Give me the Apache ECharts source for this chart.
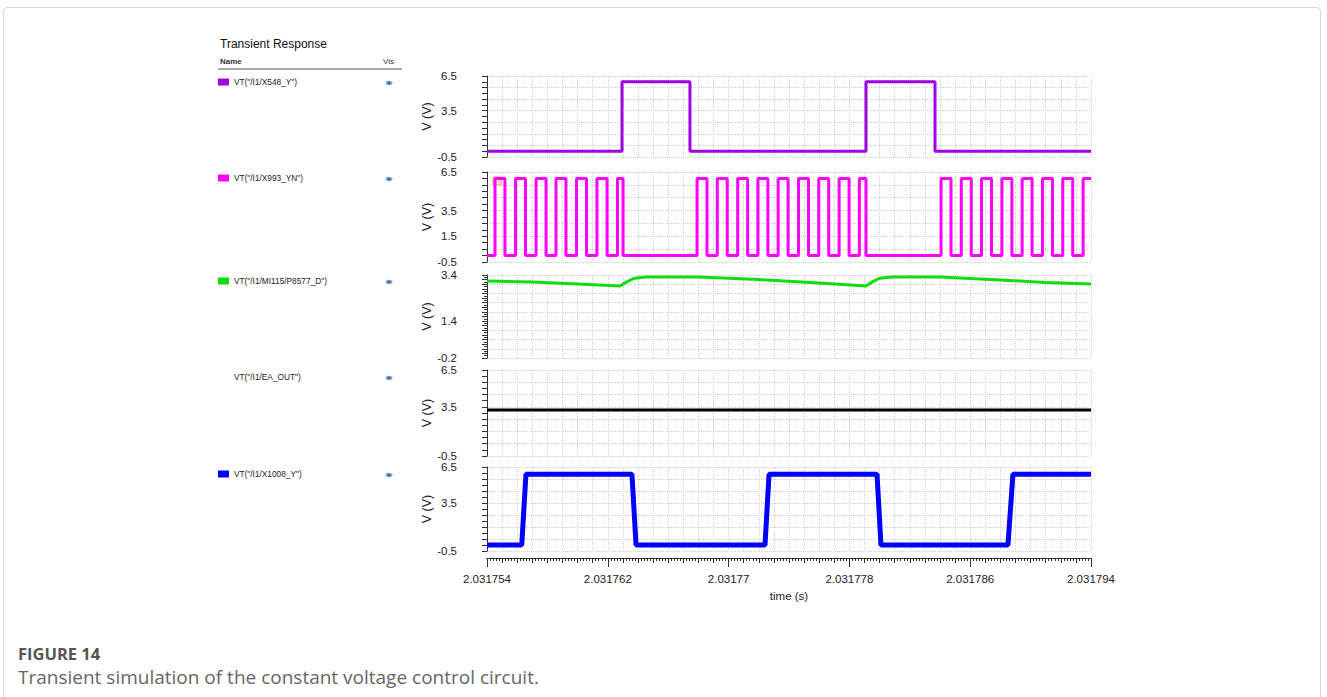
<!DOCTYPE html>
<html><head><meta charset="utf-8">
<script src="https://cdn.jsdelivr.net/npm/echarts@6/dist/echarts.min.js"></script>
<style>
html,body{margin:0;padding:0;background:#fff;width:1327px;height:697px;overflow:hidden;}
#frame{position:absolute;left:3px;top:7px;width:1316px;height:720px;border:1px solid #d8d8d8;border-radius:4px;}
#chart{position:absolute;left:0;top:0;width:1327px;height:620px;}
#cap{position:absolute;left:18px;top:642px;font-family:'Open Sans',sans-serif;color:#555;}
#cap .t{font-weight:bold;font-size:16.5px;line-height:24px;}
#cap .d{font-size:19px;line-height:22px;color:#666;}
</style></head>
<body>
<div id="frame"></div>
<div id="chart"></div>
<div id="cap"><div class="t">FIGURE 14</div><div class="d">Transient simulation of the constant voltage control circuit.</div></div>
<script>
// time axis in µs offset from 2.031754 s; labels every 8 µs
const xTickLabels = ['2.031754','2.031762','2.03177','2.031778','2.031786','2.031794'];
const seriesNames = ['VT("/I1/X548_Y")','VT("/I1/X993_YN")','VT("/I1/MI115/P8577_D")','VT("/I1/EA_OUT")','VT("/I1/X1008_Y")'];
const seriesColors = ['#a000e4','#ff00ff','#10dd10','#000000','#0000ff'];
const legendIconColors = ['#a000e4','#ff00ff','#10dd10','#ffffff','#0000ff'];
const yLabels1 = [-0.5, 3.5, 6.5];
const yLabels2 = [-0.5, 1.5, 3.5, 6.5];
const yLabels3 = [-0.2, 1.4, 3.4];
const yLabels4 = [-0.5, 3.5, 6.5];
const yLabels5 = [-0.5, 3.5, 6.5];

const x548 = [[0,0],[8.94,0],[8.94,6],[13.44,6],[13.44,0],[25.10,0],[25.10,6],[29.67,6],[29.67,0],[40,0]];
const x993 = [[0,0],[0.53,6],[1.19,0],[1.89,6],[2.55,0],[3.25,6],[3.91,0],[4.57,6],[5.23,0],[5.93,6],[6.59,0],[7.28,6],[7.95,0],[8.64,6],[9.01,0],
  [13.91,6],[14.57,0],[15.25,6],[15.91,0],[16.60,6],[17.26,0],[17.94,6],[18.60,0],[19.28,6],[19.94,0],[20.63,6],[21.29,0],[21.97,6],[22.63,0],[23.32,6],[23.98,0],[24.66,6],[25.10,0],
  [30.07,6],[30.73,0],[31.41,6],[32.07,0],[32.75,6],[33.41,0],[34.10,6],[34.76,0],[35.44,6],[36.10,0],[36.79,6],[37.45,0],[38.13,6],[38.79,0],[39.48,6],[40,6]];
const p8577 = [[0,3.14],[3,3.10],[6,3.01],[8.8,2.92],[9.2,3.08],[9.7,3.25],[10.5,3.31],[14,3.31],[18,3.20],[22,3.05],[25.1,2.92],[25.5,3.10],[26,3.26],[26.8,3.31],[30,3.31],[34,3.18],[37,3.08],[40,3.01]];
const eaOut = [[0,3.25],[40,3.25]];
const x1008 = [[0,0],[2.30,0],[2.58,5.9],[9.60,5.9],[9.87,0],[18.41,0],[18.68,5.9],[25.83,5.9],[26.09,0],[34.50,0],[34.83,5.9],[40,5.9]];

const panels = [
  {top:76, height:81, min:-0.5, max:6.5, step:0.5, gridDiv:7, labels:yLabels1, data:x548, width:3, step2:false},
  {top:172, height:90, min:-0.5, max:6.5, step:0.5, gridDiv:7, labels:yLabels2, data:x993, width:3, step2:true},
  {top:275, height:83, min:-0.2, max:3.4, step:0.2, gridDiv:9, labels:yLabels3, data:p8577, width:3, step2:false},
  {top:370, height:86, min:-0.5, max:6.5, step:0.5, gridDiv:7, labels:yLabels4, data:eaOut, width:3, step2:false},
  {top:467, height:84, min:-0.5, max:6.5, step:0.5, gridDiv:7, labels:yLabels5, data:x1008, width:5, step2:false}
];
const FONT = 'Liberation Sans';
const gridLine = {show:true, lineStyle:{color:'#cfcfcf', type:'dotted', width:1}};
const axisCol = '#333';

const grid=[], xAxis=[], yAxis=[], series=[];
panels.forEach((p,i)=>{
  grid.push({left:487, right:236, top:p.top, height:p.height, containLabel:false});
  xAxis.push({type:'value', gridIndex:i, min:0, max:40, interval:1,
    axisLine:{show: i===4, onZero:false, lineStyle:{color:axisCol}}, offset: i===4?7:0,
    axisTick:{show:i===4, length:5, lineStyle:{color:axisCol}},
    minorTick:{show:i===4, splitNumber:5, length:3, lineStyle:{color:axisCol}},
    axisLabel:{show:false}, splitLine:gridLine});
  yAxis.push({type:'value', gridIndex:i, min:p.min, max:p.max, interval:p.step, offset:12,
    name:'V (V)', nameLocation:'middle', nameGap:42, nameTextStyle:{fontFamily:FONT, fontSize:12.5, color:'#222'},
    axisLine:{show:true, lineStyle:{color:axisCol}},
    axisTick:{show:true, length:5, lineStyle:{color:axisCol}},
    minorTick:{show: i===2, splitNumber:2, length:3, lineStyle:{color:axisCol}},
    axisLabel:{fontFamily:FONT, fontSize:11.5, lineHeight:10, color:'#222', margin:18,
      formatter:(v)=>{ for(const l of p.labels){ if(Math.abs(v-l)<1e-6) return String(l);} return ''; }},
    splitLine:{show:false}});
  yAxis.push({type:'value', gridIndex:i, min:0, max:p.gridDiv, interval:1, show:true,
    axisLine:{show:false}, axisTick:{show:false}, axisLabel:{show:false}, splitLine:gridLine});
  series.push({name:seriesNames[i], type:'line', xAxisIndex:i, yAxisIndex:2*i, data:p.data,
    step: p.step2 ? 'end' : false, symbol:'none', silent:true,
    lineStyle:{color:seriesColors[i], width:p.width}, itemStyle:{color:seriesColors[i]}});
});
xAxis.push({type:'value', gridIndex:4, min:0, max:40, interval:8, offset:7, position:'bottom',
  name:'time (s)', nameLocation:'middle', nameGap:32, nameTextStyle:{fontFamily:FONT, fontSize:11.5, color:'#222'},
  axisLine:{show:true, onZero:false, lineStyle:{color:axisCol}},
  axisTick:{show:true, length:9, lineStyle:{color:axisCol}},
  axisLabel:{fontFamily:FONT, fontSize:11.5, color:'#222', margin:15, formatter:(v)=>xTickLabels[Math.round(v/8)] || ''},
  splitLine:{show:false}});

const legendY = [83,179,282,378,475];
const legend = seriesNames.map((n,i)=>({left:218, top:legendY[i]-5, orient:'horizontal', selectedMode:false,
  itemWidth:11, itemHeight:7, padding:0, textStyle:{fontFamily:FONT, fontSize:8.3, color:'#222'},
  data:[{name:n, icon:'rect', itemStyle:{color:legendIconColors[i], borderWidth:0}}]}));

const graphic = [
  {type:'text', left:220, top:57, style:{text:'Name', fontFamily:FONT, fontSize:8, fontWeight:'bold', fill:'#333'}},
  {type:'text', left:383, top:57, style:{text:'Vis', fontFamily:FONT, fontSize:8, fill:'#333'}},
  {type:'line', shape:{x1:218, y1:69, x2:402, y2:69}, style:{stroke:'#555', lineWidth:1}},
  {type:'rect', shape:{x:493, y:177, width:8, height:8}, style:{fill:'rgba(240,190,140,0.5)', stroke:'#e0a070', lineWidth:1}}
];
legendY.forEach(y=>{
  graphic.push({type:'ellipse', shape:{cx:389, cy:y, rx:3.5, ry:2.2}, style:{fill:'#7b9cc4'}});
  graphic.push({type:'circle', shape:{cx:389, cy:y, r:1.2}, style:{fill:'#3e5f8c'}});
});

const chart = echarts.init(document.getElementById('chart'), null, {renderer:'svg'});
chart.setOption({
  animation:false,
  title:{text:'Transient Response', left:215, top:33, textStyle:{fontFamily:FONT, fontSize:12, fontWeight:'normal', color:'#111'}},
  legend, grid, xAxis, yAxis, series, graphic
});
</script>
</body></html>
